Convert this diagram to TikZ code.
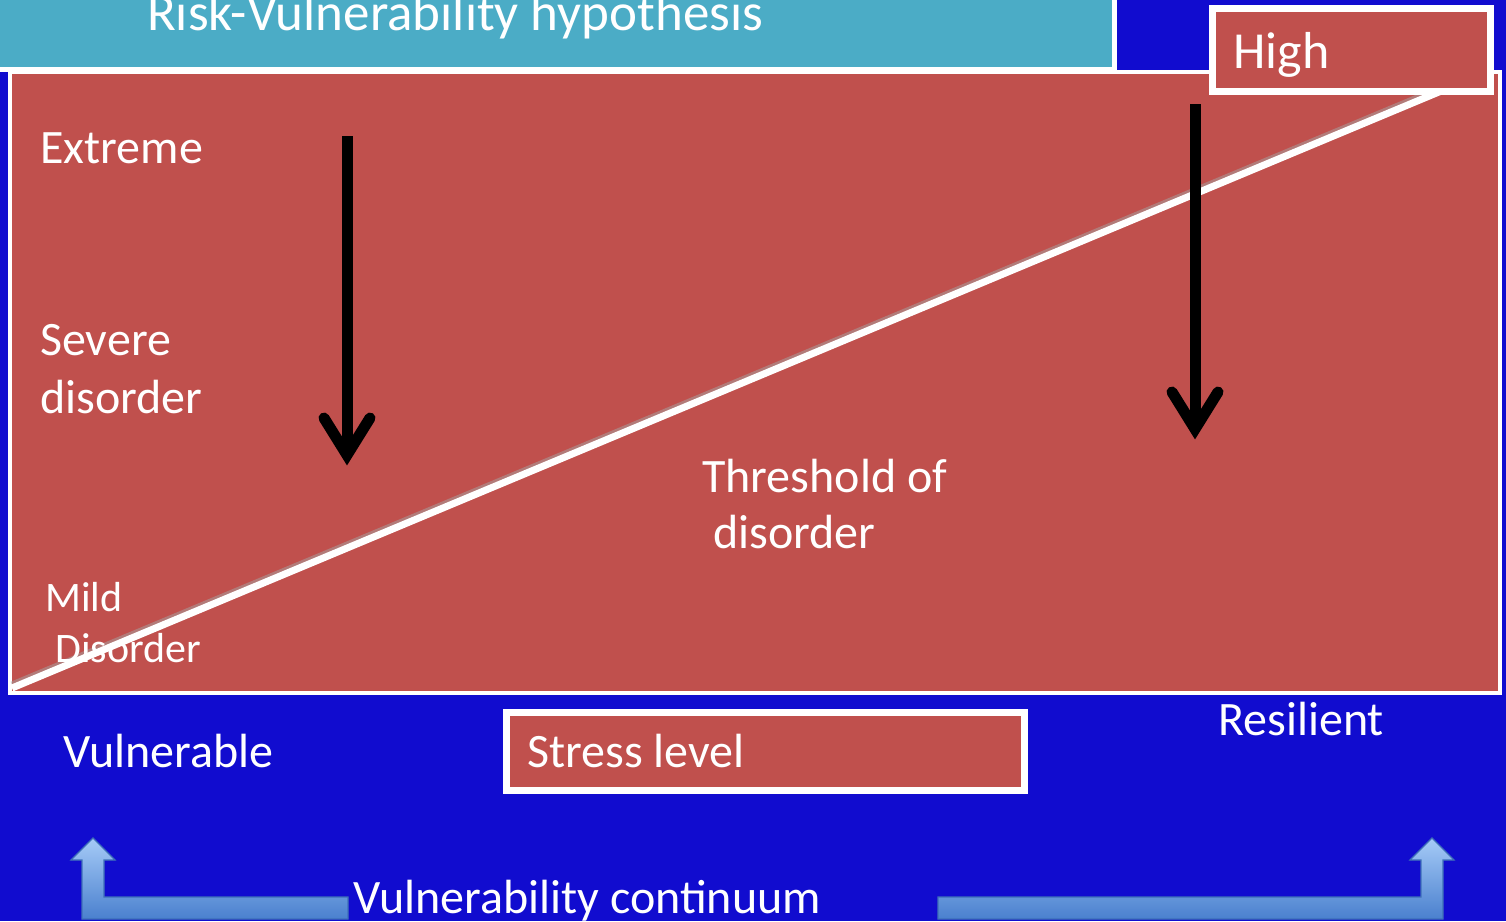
\documentclass[tikz,border=0pt]{standalone}
\usepackage{fontspec}
\setmainfont{Carlito}
\definecolor{bgblue}{RGB}{17,12,207}
\definecolor{titleteal}{RGB}{75,172,198}
\definecolor{boxred}{RGB}{192,80,77}
\definecolor{arrowtop}{RGB}{166,203,247}
\definecolor{arrowbot}{RGB}{74,128,206}
\definecolor{arrowedge}{RGB}{62,112,184}
\begin{document}
\begin{tikzpicture}[x=1pt,y=-1pt,
  lbl/.style={text=white,anchor=base west,inner sep=0pt,font=\fontsize{48}{58}\selectfont},
  smalllbl/.style={lbl,font=\fontsize{42}{50}\selectfont},
  whitebox/.style={draw=white,fill=boxred,line width=7pt},
  downarrow/.style={line width=11pt,draw=black},
  chevron/.style={line width=11pt,draw=black,line cap=round,line join=miter},
  bigarrow/.style={draw=arrowedge,line width=1.2pt,top color=arrowtop,bottom color=arrowbot}]
\useasboundingbox (0,0) rectangle (1506,921);
% background
\fill[bgblue] (0,0) rectangle (1506,921);
% title bar
\draw[fill=titleteal,draw=white,line width=5pt] (-10,-10) rectangle (1114,69);
\node[lbl,font=\fontsize{53}{64}\selectfont] (title) at (147,30) {Risk-Vulnerability hypothesis};
% main panel
\draw[fill=boxred,draw=white,line width=4pt] (10,72) rectangle (1500,693);
% threshold line
\coordinate (lineA) at (12,688);
\coordinate (lineB) at (1458,84);
\draw[black!35,line width=7pt,opacity=0.5] ([yshift=3]lineA) -- ([yshift=3]lineB);
\draw[white,line width=7pt] (lineA) -- (lineB);
% vertical arrows
\coordinate (a1s) at (347,136);
\coordinate (a1t) at (347,455);
\draw[downarrow] (a1s) -- (a1t);
\draw[chevron] (324,418) -- (a1t) -- (370,418);
\coordinate (a2s) at (1195,104);
\coordinate (a2t) at (1195,429);
\draw[downarrow] (a2s) -- (a2t);
\draw[chevron] (1172,392) -- (a2t) -- (1218,392);
% high box
\draw[whitebox] (1212,8) rectangle (1490,91);
\node[lbl,font=\fontsize{52}{62}\selectfont] (high) at (1233,68) {High};
% stress level box
\draw[whitebox] (506.5,712.5) rectangle (1024.5,790.5);
\node[lbl] (stress) at (527,767) {Stress level};
% labels
\node[lbl] (extreme) at (40,163) {Extreme};
\node[lbl] (severe) at (40,355) {Severe};
\node[lbl] (severe2) at (40,413) {disorder};
\node[lbl] (thr) at (702,492) {Threshold of};
\node[lbl] (thr2) at (713,548) {disorder};
\node[smalllbl] (mild) at (45,611) {Mild};
\node[smalllbl] (mild2) at (55,662) {Disorder};
\node[lbl] (vuln) at (63,767) {Vulnerable};
\node[lbl] (resil) at (1218,735) {Resilient};
% vulnerability continuum arrows
\draw[bigarrow] (82,919) -- (82,860) -- (71,860) -- (93,838) -- (115,860) -- (104,860) -- (104,897) -- (348,897) -- (348,919) -- cycle;
\draw[bigarrow] (938,919) -- (938,897) -- (1421,897) -- (1421,860) -- (1410,860) -- (1432,838) -- (1454,860) -- (1443,860) -- (1443,919) -- cycle;
\node[lbl] (cont) at (353,913) {Vulnerability continuum};
\end{tikzpicture}
\end{document}
